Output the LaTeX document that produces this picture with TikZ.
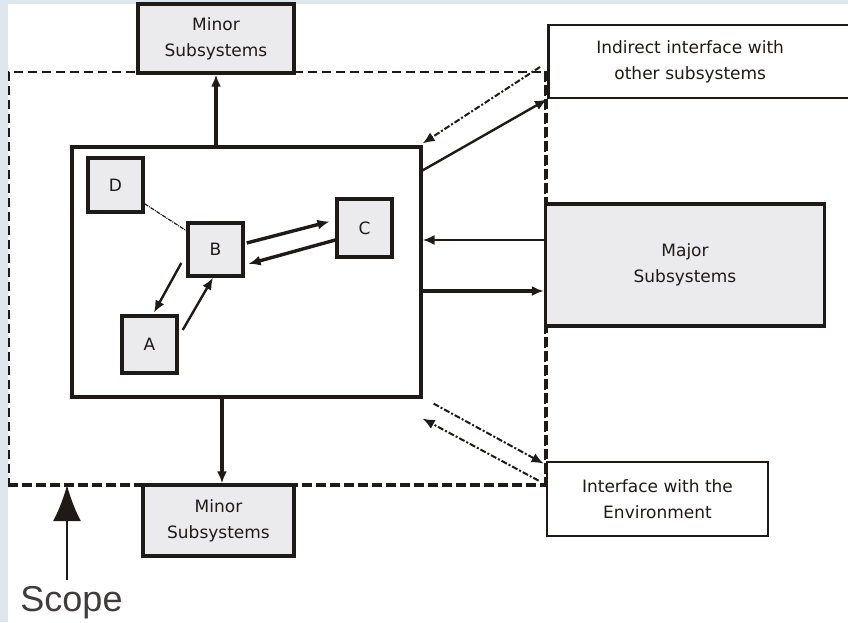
\documentclass[tikz,border=0pt]{standalone}
\usepackage{fontspec}
\setmainfont{DejaVu Sans}
\newfontfamily\scopefont{Liberation Sans}
\usetikzlibrary{arrows.meta}
\definecolor{ink}{HTML}{1E1A18}
\definecolor{boxgray}{HTML}{EBEBEE}
\definecolor{bgblue}{HTML}{DFE7EE}
\tikzset{
  lbl/.style={font=\fontsize{17}{26}\selectfont, text=ink, align=center},
  graybox/.style={draw=ink, line width=3.4pt, fill=boxgray, inner sep=0pt, lbl},
  whitebox/.style={draw=ink, line width=2.8pt, fill=white, inner sep=0pt, lbl},
  tip/.style={-{Latex[length=12pt,width=10pt]}},
  heavyarrow/.style={draw=ink, line width=3.4pt, tip},
  medarrow/.style={draw=ink, line width=2.4pt, tip},
  dotdasharrow/.style={draw=ink, line width=2pt, dash pattern=on 6pt off 2pt on 2pt off 2pt, tip},
  thinlink/.style={draw=ink, line width=1.2pt, dash pattern=on 4pt off 1pt on 1pt off 1pt},
  scopeline/.style={draw=ink, line width=2.2pt, dash pattern=on 9pt off 5pt},
  scopeheavy/.style={draw=ink, line width=3.4pt, dash pattern=on 10pt off 4pt},
}
\begin{document}
\begin{tikzpicture}[x=1pt,y=-1pt]
\useasboundingbox (0,0) rectangle (848,622);
\fill[bgblue] (0,0) rectangle (848,622);
\fill[white] (8,4) rectangle (848,622);

% scope rectangle
\node[scopeline, minimum width=536pt, minimum height=412pt, inner sep=0pt] (scopebox) at (277,278) {};
\draw[scopeheavy] (scopebox.north east) -- (scopebox.south east);
\draw[scopeheavy] (scopebox.south west) -- (scopebox.south east);

% outer boxes
\node[graybox, minimum width=156pt, minimum height=69pt] (mtop) at (216,38.5) {Minor\\Subsystems};
\node[graybox, minimum width=151pt, minimum height=71pt] (mbot) at (218.5,520.5) {Minor\\Subsystems};
\node[graybox, minimum width=279pt, minimum height=122pt] (major) at (685,265) {Major\\Subsystems};
\node[whitebox, minimum width=320pt, minimum height=73pt, anchor=west, text width=300pt, align=left] (ind) at (547,61.5) {\hspace*{38pt}Indirect interface with\\\hspace*{56pt}other subsystems};
\node[whitebox, minimum width=221pt, minimum height=74pt] (env) at (657.5,499) {Interface with the\\Environment};

% main box
\node[draw=ink, line width=3.2pt, fill=white, minimum width=349pt, minimum height=250pt, inner sep=0pt] (main) at (246.5,272) {};

% inner boxes
\node[graybox, minimum width=55pt, minimum height=54pt] (D) at (115.5,185) {D};
\node[graybox, minimum width=55pt, minimum height=53pt] (B) at (215.5,249.5) {B};
\node[graybox, minimum width=55pt, minimum height=58pt] (C) at (364.5,228) {C};
\node[graybox, minimum width=55pt, minimum height=57pt] (A) at (149.5,344.5) {A};

% inner connectors
\draw[thinlink] (D) -- (B);
\draw[heavyarrow, shorten >=6pt] ([xshift=2pt,yshift=6.5pt]B.east) -- ([yshift=8pt]C.west);
\draw[heavyarrow, shorten >=4pt] ([yshift=-12pt]C.west) -- ([yshift=-15.5pt]B.east);
\draw[medarrow, shorten >=2pt] ([xshift=-5pt,yshift=-13.5pt]B.west) -- ([xshift=3.5pt]A.north);
\draw[medarrow] ([xshift=4pt,yshift=14.5pt]A.east) -- ([xshift=-2.5pt]B.south);

% to minor subsystems
\draw[heavyarrow] (mtop.south |- main.north) -- (mtop.south);
\draw[heavyarrow] ([xshift=3.5pt]mbot.north |- main.south) -- ([xshift=3.5pt]mbot.north);

% major subsystems
\draw[medarrow] ([yshift=25pt]major.west) -- ([yshift=25pt]major.west -| main.east);
\draw[heavyarrow] ([yshift=-26pt]major.west -| main.east) -- ([yshift=-26pt]major.west);

% indirect interface
\draw[dotdasharrow] ([xshift=-7pt,yshift=-5.5pt]ind.west) -- ([yshift=2pt]main.north east);
\draw[medarrow] ([yshift=-25pt]main.north east) -- (ind.south west);

% environment
\draw[dotdasharrow] ([xshift=11pt,yshift=-5pt]main.south east) -- ([xshift=-2pt,yshift=-3pt]env.north west);
\draw[dotdasharrow] ([xshift=-7pt,yshift=-20pt]env.north west) -- ([yshift=-20pt]main.south east);

% scope
\node[font=\scopefont\fontsize{36}{36}\selectfont, text=ink!85, inner sep=0pt, anchor=north] (scope) at (71.5,586) {Scope};
\draw[draw=ink, line width=1.5pt, -{Latex[length=36pt,width=28pt]}] ([xshift=-4.5pt,yshift=6pt]scope.north) -- ([xshift=-4.5pt]scope.north |- scopebox.south);
\end{tikzpicture}
\end{document}
